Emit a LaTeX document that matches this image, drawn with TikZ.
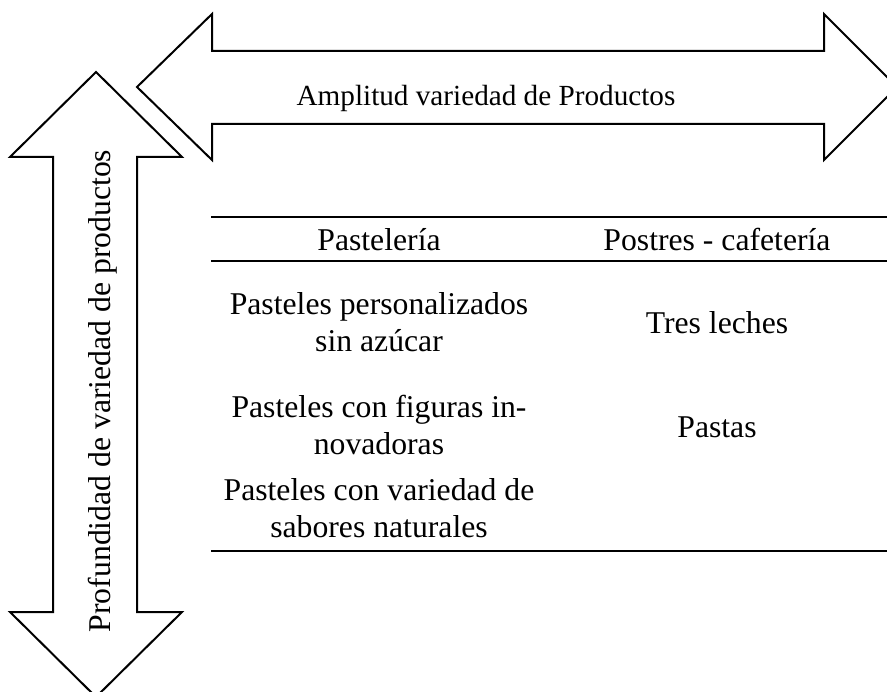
\documentclass[tikz,border=0pt]{standalone}
\usepackage{fontspec}
\setmainfont{Liberation Serif}
\begin{document}
\begin{tikzpicture}[x=1pt,y=-1pt,
  shapeline/.style={draw=black,line width=2pt,line join=miter,fill=white},
  rulel/.style={draw=black,line width=2.2pt},
  cell/.style={anchor=base,align=center,inner sep=0pt,font=\fontsize{31.7}{37}\selectfont},
  biglabel/.style={anchor=base,inner sep=0pt,font=\fontsize{31.7}{37}\selectfont},
  toplabel/.style={anchor=base,inner sep=0pt,font=\fontsize{29.2}{34}\selectfont}]
\useasboundingbox (0,0) rectangle (887,692);
% horizontal double arrow
\path[shapeline] (137,87) -- (212,14) -- (212,51) -- (824,51) -- (824,14) -- (897,87)
  -- (824,160) -- (824,124) -- (212,124) -- (212,160) -- cycle;
% vertical double arrow
\path[shapeline] (96,72) -- (182,157) -- (137,157) -- (137,612) -- (182,612) -- (96,697)
  -- (10,612) -- (53,612) -- (53,157) -- (10,157) -- cycle;
\node[toplabel] (amp) at (486,106) {Amplitud variedad de Productos};
\node[biglabel,rotate=90] (prof) at (110,391) {Profundidad de variedad de productos};
% table rules
\coordinate (r1a) at (211,217); \coordinate (r1b) at (887,217);
\coordinate (r2a) at (211,261); \coordinate (r2b) at (887,261);
\coordinate (r3a) at (211,551); \coordinate (r3b) at (887,551);
\draw[rulel] (r1a) -- (r1b);
\draw[rulel] (r2a) -- (r2b);
\draw[rulel] (r3a) -- (r3b);
% table cells (multi-line cells: base = last line)
\node[cell] (h1) at (379,251) {Pastelería};
\node[cell] (h2) at (717,251) {Postres - cafetería};
\node[cell] (c1) at (379,352) {Pasteles personalizados\\sin azúcar};
\node[cell] (d1) at (717,334) {Tres leches};
\node[cell] (c2) at (379,455) {Pasteles con figuras in-\\novadoras};
\node[cell] (d2) at (717,438) {Pastas};
\node[cell] (c3) at (379,538) {Pasteles con variedad de\\sabores naturales};
\end{tikzpicture}
\end{document}
